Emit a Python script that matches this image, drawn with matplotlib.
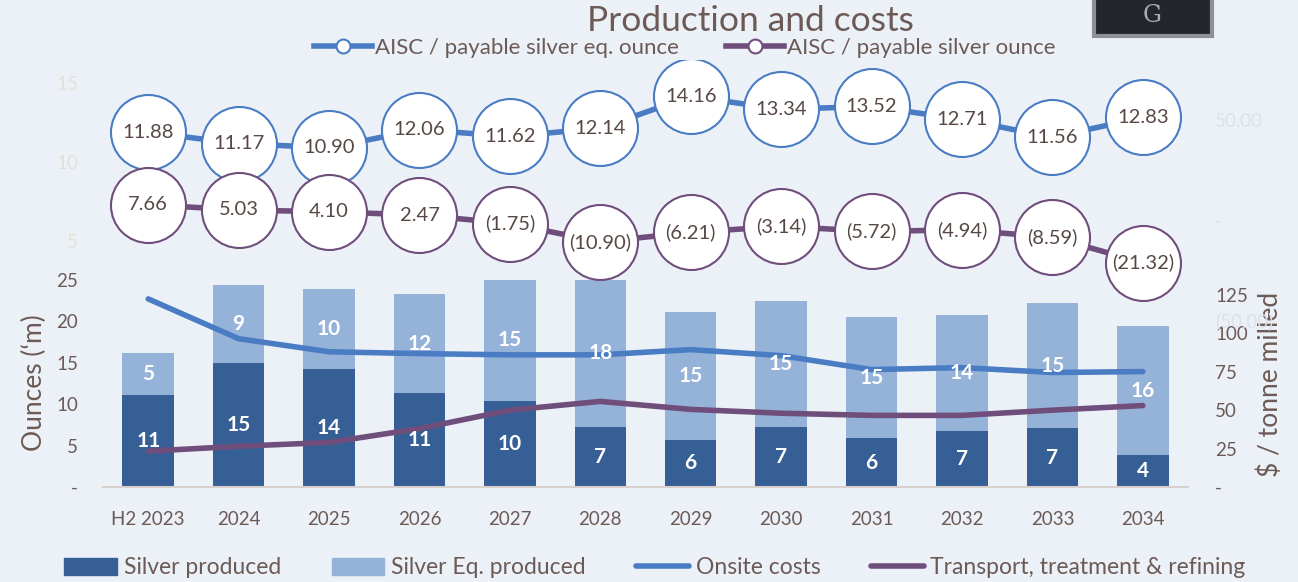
import matplotlib
matplotlib.use("Agg")
import matplotlib.pyplot as plt
from matplotlib.patches import Rectangle, Patch
from matplotlib.lines import Line2D

plt.rcParams['font.family'] = ['Lato', 'DejaVu Sans']

# ===== DATA =====
years = ["H2 2023", "2024", "2025", "2026", "2027", "2028",
         "2029", "2030", "2031", "2032", "2033", "2034"]
silver_produced = [11.1, 15.0, 14.2, 11.3, 10.4, 7.3, 5.7, 7.3, 5.9, 6.8, 7.1, 3.9]
silver_eq_produced = [5.1, 9.4, 9.7, 12.0, 14.7, 17.8, 15.4, 15.2, 14.6, 14.0, 15.1, 15.5]
onsite_costs = [122.4, 96.5, 88.0, 86.8, 86.0, 86.0, 89.4, 85.5, 76.4, 77.7, 74.5, 75.1]
transport_costs = [23.3, 26.5, 29.0, 38.0, 50.0, 55.7, 50.5, 48.0, 46.6, 46.6, 50.0, 53.0]
aisc_eq = [11.88, 11.17, 10.90, 12.06, 11.62, 12.14, 14.16, 13.34, 13.52, 12.71, 11.56, 12.83]
aisc_silver = [7.66, 5.03, 4.10, 2.47, -1.75, -10.90, -6.21, -3.14, -5.72, -4.94, -8.59, -21.32]

# ===== STYLE =====
BG = '#ECF1F8'
DARK = '#365F96'
LIGHT = '#95B3D9'
BLUE = '#4A7CC4'
PURPLE = '#6F4E7C'
TXT = '#6B5A55'
BUB_TXT = '#574844'

W_PX, H_PX = 1298, 582
L = 103 / W_PX
WID = (1188 - 103) / W_PX

fig = plt.figure(figsize=(12.98, 5.82), dpi=100, facecolor=BG)

x = list(range(len(years)))

# ===== BARS =====
ax = fig.add_axes([L, (H_PX - 487) / H_PX, WID, 207 / H_PX])
ax.set_facecolor('none')
ax.bar(x, silver_produced, width=0.57, color=DARK, zorder=2)
ax.bar(x, silver_eq_produced, width=0.57, bottom=silver_produced, color=LIGHT, zorder=2)
ax.set_xlim(-0.5, 11.5)
ax.set_ylim(0, 25)
ax.set_yticks([0, 5, 10, 15, 20, 25])
ax.set_yticklabels(['-', '5', '10', '15', '20', '25'])
ax.set_xticks(x)
ax.set_xticklabels(years)
ax.tick_params(axis='both', length=0, colors=TXT, labelsize=13.5)
ax.tick_params(axis='y', pad=18)
ax.tick_params(axis='x', pad=17)
for s in ['top', 'left', 'right']:
    ax.spines[s].set_visible(False)
ax.spines['bottom'].set_color('#D9D0CC')
ax.spines['bottom'].set_linewidth(1.5)

ax2 = ax.twinx()
ax2.set_ylim(0, 134.7)
ax2.plot(x, onsite_costs, color=BLUE, lw=4, solid_capstyle='round', zorder=3)
ax2.plot(x, transport_costs, color=PURPLE, lw=4, solid_capstyle='round', zorder=3)
ax2.set_yticks([0, 25, 50, 75, 100, 125])
ax2.set_yticklabels(['-', '25', '50', '75', '100', '125'])
ax2.tick_params(axis='y', length=0, colors=TXT, labelsize=13.5, pad=19.5)
for s in ax2.spines.values():
    s.set_visible(False)

# bar value labels on top of the lines
for i in x:
    s = silver_produced[i]
    e = silver_eq_produced[i]
    ax2.text(i, s / 2, f"{s:.0f}", transform=ax.transData, ha='center', va='center',
             color='white', fontsize=15, fontweight='bold', zorder=5)
    ax2.text(i, s + e / 2, f"{e:.0f}", transform=ax.transData, ha='center', va='center',
             color='white', fontsize=15, fontweight='bold', zorder=5)

fig.text(34 / W_PX, 1 - 383 / H_PX, "Ounces (\u2018m)", rotation=90, ha='center', va='center',
         color=TXT, fontsize=19)
fig.text(1270 / W_PX, 1 - 384 / H_PX, r"\$ / tonne milled", rotation=90, ha='center', va='center',
         color=TXT, fontsize=19)

# ===== AISC BUBBLES =====
ax3 = fig.add_axes([L, (H_PX - 320) / H_PX, WID, 260 / H_PX])
ax3.set_zorder(5)
ax3.set_facecolor('none')
ax3.set_xlim(-0.5, 11.5)
ax3.set_ylim(0, 16.46)
ax3.set_xticks([])
ax3.set_yticks([5, 10, 15])
ax3.tick_params(axis='y', length=0, colors='#E3E0D6', labelsize=13.5, pad=18)
for s in ax3.spines.values():
    s.set_visible(False)
ax3.plot(x, aisc_eq, color=BLUE, lw=4, marker='o', ms=54, mfc='white', mec=BLUE, mew=1.5)
for i, v in enumerate(aisc_eq):
    ax3.text(i, v, f"{v:.2f}", ha='center', va='center', color=BUB_TXT, fontsize=14.5, zorder=5)

ax4 = ax3.twinx()
ax4.set_ylim(-50, 80)
ax4.set_yticks([-50, 0, 50])
ax4.set_yticklabels(['(50.00)', '-', '50.00'])
ax4.tick_params(axis='y', length=0, colors='#DCE1EA', labelsize=13.5, pad=19.5)
for s in ax4.spines.values():
    s.set_visible(False)
ax4.plot(x, aisc_silver, color=PURPLE, lw=4, marker='o', ms=54, mfc='white', mec=PURPLE, mew=1.5)
for i, v in enumerate(aisc_silver):
    lab = f"({abs(v):.2f})" if v < 0 else f"{v:.2f}"
    ax4.text(i, v, lab, ha='center', va='center', color=BUB_TXT, fontsize=14.5, zorder=5)

# ===== TITLE / LOGO =====
fig.text(750 / W_PX, 1 - 21 / H_PX, "Production and costs", ha='center', va='center',
         color=TXT, fontsize=25.5)
fig.patches.append(Rectangle((1094 / W_PX, 1 - 36 / H_PX), 118 / W_PX, 40 / H_PX,
                             transform=fig.transFigure, fc='#25252D', ec='#8D9097', lw=3))
fig.text(1152 / W_PX, 1 - 16 / H_PX, "G", ha='center', va='center', color='#A9ACB4',
         fontsize=17, family='DejaVu Serif')

# ===== LEGENDS =====
top_handles = [
    Line2D([], [], color=BLUE, lw=4, marker='o', ms=10, mfc='white', mec=BLUE, mew=1.5),
    Line2D([], [], color=PURPLE, lw=4, marker='o', ms=10, mfc='white', mec=PURPLE, mew=1.5),
]
fig.legend(top_handles, ["AISC / payable silver eq. ounce", "AISC / payable silver ounce"],
           loc='center', bbox_to_anchor=(685 / W_PX, 1 - 48 / H_PX), ncol=2, frameon=False,
           fontsize=16, labelcolor=TXT, handlelength=2.6, handletextpad=0.15,
           columnspacing=2.1)

bottom_handles = [
    Patch(color=DARK), Patch(color=LIGHT),
    Line2D([], [], color=BLUE, lw=4, solid_capstyle='round'),
    Line2D([], [], color=PURPLE, lw=4, solid_capstyle='round'),
]
fig.legend(bottom_handles, ["Silver produced", "Silver Eq. produced", "Onsite costs",
                            "Transport, treatment & refining"],
           loc='center', bbox_to_anchor=(655 / W_PX, 1 - 568 / H_PX), ncol=4, frameon=False,
           fontsize=16.5, labelcolor=TXT, handlelength=2.3, handletextpad=0.3,
           columnspacing=2.2)

fig.savefig("out.png", dpi=100, facecolor=BG)
